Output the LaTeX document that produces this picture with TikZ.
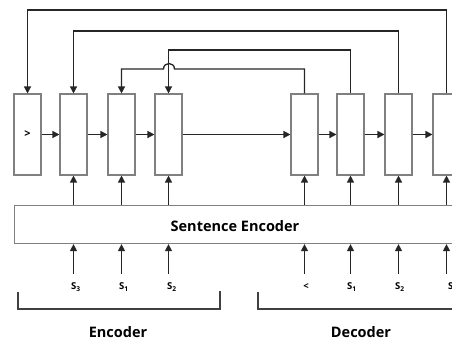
\documentclass[tikz,border=0pt]{standalone}
\usepackage{fontspec}
\setmainfont{Open Sans}
\usetikzlibrary{arrows.meta,calc}
\begin{document}
\begin{tikzpicture}[x=1pt,y=-1pt,
  cell/.style={draw=black!50,line width=1.1pt,minimum width=27pt,minimum height=81pt,inner sep=0pt,fill=white},
  arr/.style={draw=black!85,line width=1.3pt,-{Triangle[length=7pt,width=7pt]}},
  lab/.style={font=\fontsize{9.5}{11}\selectfont\bfseries,inner sep=1pt},
  big/.style={font=\fontsize{14.5}{16}\selectfont\bfseries,inner sep=0pt}]
\useasboundingbox (0,0) rectangle (452,343);
\clip (0,0) rectangle (452,343);
% cells
\node[cell,font=\fontsize{11}{12}\selectfont\bfseries] (b1) at (27.5,134.5) {>};
\node[cell] (b2) at (73.5,134.5) {};
\node[cell] (b3) at (121.5,134.5) {};
\node[cell] (b4) at (168.5,134.5) {};
\node[cell] (b5) at (304.5,134.5) {};
\node[cell] (b6) at (350.5,134.5) {};
\node[cell] (b7) at (398.5,134.5) {};
\node[cell] (b8) at (446.5,134.5) {};
% sentence encoder
\node[draw=black!50,line width=1.1pt,minimum width=460pt,minimum height=38pt,inner sep=0pt,anchor=north west] (se) at (14,205) {};
\node[big] (set) at (235,226) {Sentence Encoder};
% horizontal arrows
\draw[arr] (b1) -- (b2);
\draw[arr] (b2) -- (b3);
\draw[arr] (b3) -- (b4);
\draw[arr] (b4) -- (b5);
\draw[arr] (b5) -- (b6);
\draw[arr] (b6) -- (b7);
\draw[arr] (b7) -- (b8);
% feedback
\coordinate (t1) at (0,10);
\coordinate (t2) at (0,31);
\coordinate (t3) at (0,50);
\coordinate (t4) at (0,69);
\draw[arr] (b8.north) -- (b8.north |- t1) -| (b1.north);
\draw[arr] (b7.north) -- (b7.north |- t2) -| (b2.north);
\draw[arr] (b6.north) -- (b6.north |- t3) -| (b4.north);
\draw[arr] (b5.north) -- (b5.north |- t4) -- (174.5,69) .. controls (174.5,61.7) and (163.5,61.7) .. (163.5,69) -| (b3.north);
% from sentence encoder up
\foreach \b in {b2,b3,b4,b5,b6,b7,b8}{
  \draw[arr] (\b.south |- se.north) -- (\b.south);
}
% input labels
\node[lab] (i1) at (76,287) {S\textsubscript{3}};
\node[lab] (i2) at (124,287) {S\textsubscript{1}};
\node[lab] (i3) at (172,287) {S\textsubscript{2}};
\node[lab] (d1) at (306,287) {<};
\node[lab] (d2) at (352,287) {S\textsubscript{1}};
\node[lab] (d3) at (400,287) {S\textsubscript{2}};
\node[lab] (d4) at (453,287) {S\textsubscript{3}};
\foreach \l/\b in {i1/b2,i2/b3,i3/b4,d1/b5,d2/b6,d3/b7,d4/b8}{
  \draw[arr] (\b.south |- 0,274) -- (\b.south |- se.south);
}
% brackets
\draw[draw=black!75,line width=1.1pt] (18,292) -- (18,309) -- (220,309) -- (220,291);
\draw[draw=black!75,line width=1.1pt] (258,292) -- (258,309) -- (470,309);
\node[big] (enc) at (118,332) {Encoder};
\node[big] (dec) at (361,332) {Decoder};
\end{tikzpicture}
\end{document}
